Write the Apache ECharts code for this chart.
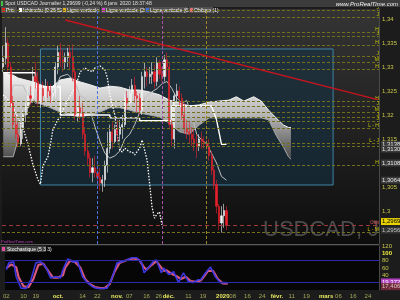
<!DOCTYPE html>
<html>
<head>
<meta charset="utf-8">
<script src="https://cdn.jsdelivr.net/npm/echarts@6/dist/echarts.min.js"></script>
<style>
html, body { margin: 0; padding: 0; background: #1c1c1c; }
#main { width: 400px; height: 300px; }
</style>
</head>
<body>
<div id="main"></div>
<script>
'use strict';
// Spot USDCAD journalier - ichimoku + stochastique

var ohlc = [ // [open, close, low, high] one per trading day from idx 0
  [1.3300,1.3318,1.3290,1.3345],[1.3318,1.3350,1.3305,1.3383],[1.3350,1.3300,1.3290,1.3360],[1.3300,1.3225,1.3215,1.3310],
  [1.3225,1.3180,1.3170,1.3240],[1.3180,1.3160,1.3150,1.3200],[1.3160,1.3140,1.3133,1.3185],[1.3140,1.3170,1.3135,1.3180],
  [1.3170,1.3200,1.3150,1.3210],[1.3200,1.3215,1.3185,1.3225],[1.3215,1.3240,1.3200,1.3260],[1.3240,1.3235,1.3220,1.3260],
  [1.3235,1.3280,1.3225,1.3300],[1.3280,1.3270,1.3255,1.3310],[1.3270,1.3230,1.3220,1.3290],[1.3230,1.3255,1.3215,1.3265],
  [1.3255,1.3240,1.3225,1.3270],[1.3240,1.3260,1.3230,1.3275],[1.3260,1.3250,1.3235,1.3270],[1.3250,1.3240,1.3225,1.3265],
  [1.3240,1.3245,1.3225,1.3260],[1.3245,1.3300,1.3235,1.3310],[1.3300,1.3330,1.3285,1.3345],[1.3330,1.3315,1.3300,1.3350],
  [1.3315,1.3310,1.3290,1.3335],[1.3310,1.3320,1.3295,1.3330],[1.3320,1.3330,1.3300,1.3340],[1.3330,1.3320,1.3295,1.3345],
  [1.3320,1.3290,1.3270,1.3348],[1.3290,1.3200,1.3190,1.3300],[1.3200,1.3215,1.3185,1.3230],[1.3215,1.3205,1.3190,1.3240],
  [1.3205,1.3160,1.3150,1.3225],[1.3160,1.3125,1.3115,1.3175],[1.3125,1.3110,1.3095,1.3140],[1.3110,1.3080,1.3070,1.3120],
  [1.3080,1.3090,1.3060,1.3110],[1.3090,1.3080,1.3070,1.3115],[1.3080,1.3070,1.3055,1.3100],[1.3070,1.3058,1.3042,1.3090],
  [1.3058,1.3065,1.3040,1.3075],[1.3065,1.3095,1.3050,1.3105],[1.3095,1.3130,1.3080,1.3165],[1.3130,1.3165,1.3120,1.3180],
  [1.3165,1.3145,1.3130,1.3185],[1.3145,1.3170,1.3140,1.3180],[1.3170,1.3160,1.3145,1.3190],[1.3160,1.3175,1.3145,1.3190],
  [1.3175,1.3180,1.3150,1.3200],[1.3180,1.3235,1.3175,1.3245],[1.3235,1.3225,1.3210,1.3250],[1.3225,1.3245,1.3215,1.3260],
  [1.3245,1.3262,1.3225,1.3275],[1.3262,1.3240,1.3225,1.3280],[1.3240,1.3235,1.3205,1.3250],[1.3235,1.3210,1.3200,1.3245],
  [1.3210,1.3280,1.3200,1.3290],[1.3280,1.3290,1.3255,1.3310],[1.3290,1.3280,1.3260,1.3300],[1.3280,1.3285,1.3265,1.3300],
  [1.3285,1.3290,1.3265,1.3310],[1.3290,1.3270,1.3255,1.3305],[1.3270,1.3310,1.3260,1.3320],[1.3310,1.3285,1.3275,1.3315],
  [1.3285,1.3280,1.3270,1.3300],[1.3280,1.3315,1.3270,1.3325],[1.3315,1.3300,1.3280,1.3330],[1.3300,1.3180,1.3170,1.3310],
  [1.3180,1.3150,1.3135,1.3190],[1.3150,1.3240,1.3130,1.3245],[1.3240,1.3250,1.3225,1.3265],[1.3250,1.3235,1.3220,1.3260],
  [1.3235,1.3200,1.3190,1.3245],[1.3200,1.3172,1.3160,1.3225],[1.3172,1.3165,1.3150,1.3190],[1.3165,1.3160,1.3140,1.3185],
  [1.3160,1.3150,1.3135,1.3175],[1.3150,1.3140,1.3125,1.3170],[1.3140,1.3135,1.3110,1.3160],[1.3135,1.3150,1.3125,1.3160],
  [1.3150,1.3145,1.3130,1.3165],[1.3145,1.3140,1.3130,1.3155],[1.3140,1.3135,1.3128,1.3148],[1.3135,1.3115,1.3105,1.3150],
  [1.3115,1.3085,1.3075,1.3125],[1.3085,1.3055,1.3045,1.3095],[1.3055,1.3010,1.2995,1.3065],[1.3010,1.2975,1.2960,1.3015],
  [1.2975,1.2990,1.2955,1.3010],[1.2990,1.3001,1.2965,1.3015],[1.3001,1.29699,1.2960,1.3010]
];

// ichimoku cloud (senkou spans, already shifted 26 days ahead)
var cloudIdx = [0, 4, 6, 9, 12, 15, 19, 23, 27, 31, 35, 39, 43, 47, 51, 55, 59, 63, 67, 71, 75, 79, 83, 87, 91, 94, 97, 101, 104, 107, 110, 113, 115, 116];
var cloudTop = [1.3288,1.3283,1.3277,1.3273,1.3269,1.3263,1.3256,1.3273,1.3277,1.3269,1.3263,1.3256,1.3260,1.3258,1.3252,1.3252,1.3248,1.3242,
  1.3231,1.3225,1.3219,1.3221,1.3227,1.3229,1.3231,1.3238,1.3229,1.3238,1.3229,1.3210,1.3194,1.3179,1.3174,1.3174];
var cloudBot = [1.3113,1.3113,1.3148,1.3210,1.3231,1.3223,1.3215,1.3206,1.3200,1.3196,1.3200,1.3206,1.3215,1.3215,1.3210,1.3204,1.3200,1.3196,
  1.3183,1.3165,1.3160,1.3179,1.3194,1.3194,1.3194,1.3194,1.3194,1.3194,1.3194,1.3190,1.3158,1.3133,1.3113,1.3108];

var kijun = [[0,1.3288],[13,1.3288],[13,1.3259],[23,1.3259],[23,1.3200],[43,1.3200],[43,1.3194],[55,1.3194],[55,1.3188],[68,1.3188],
  [68,1.3219],[84,1.3219],[86,1.3190],[88,1.3139],[90,1.3139]];
var tenkan = [[0,1.3230],[3,1.3230],[4,1.3262],[8,1.3262],[9,1.3250],[11,1.3235],[13,1.3225],[17,1.3225],[19,1.3240],[21,1.3255],
  [23,1.3280],[26,1.3285],[29,1.3268],[31,1.3240],[33,1.3235],[35,1.3210],[37,1.3175],[39,1.3145],[41,1.3120],[43,1.3110],
  [45,1.3115],[47,1.3125],[49,1.3150],[51,1.3160],[53,1.3180],[55,1.3205],[57,1.3235],[59,1.3245],[62,1.3255],[64,1.3265],
  [66,1.3270],[68,1.3255],[70,1.3235],[72,1.3225],[74,1.3230],[76,1.3200],[78,1.3160],[80,1.3148],[82,1.3140],[84,1.3120],
  [86,1.3100],[88,1.3072],[90,1.30642]];
var chikou = [[0,1.3242],[2,1.3231],[4,1.3215],[6,1.3194],[8,1.3173],[10,1.3138],[12,1.3096],[14,1.3065],[15,1.3056],[16,1.3094],
  [18,1.3113],[19,1.3138],[20,1.3169],[22,1.3190],[23,1.3194],[24,1.3210],[26,1.3231],[28,1.3248],[30,1.3273],[31,1.3290],
  [33,1.3298],[34,1.3294],[36,1.3290],[37,1.3298],[39,1.3302],[41,1.3294],[42,1.3277],[43,1.3242],[45,1.3200],[46,1.3158],
  [47,1.3127],[48,1.3123],[49,1.3131],[51,1.3123],[52,1.3123],[53,1.3117],[55,1.3131],[56,1.3148],[58,1.3106],[59,1.3058],
  [60,1.3008],[61,1.2985],[62,1.2994],[63,1.2998],[64,1.2971]];

var stochK = [[0,55],[1,74],[3,77],[4,36],[6,5],[8,4],[10,28],[12,74],[14,77],[16,63],[18,33],[20,36],[22,33],[23,55],[25,85],
  [27,77],[29,77],[31,36],[33,20],[35,9],[37,4],[39,4],[41,5],[43,33],[45,74],[47,77],[49,82],[51,88],[53,88],[55,74],[56,47],
  [58,63],[60,80],[61,82],[63,47],[64,60],[66,42],[68,50],[70,20],[72,47],[74,23],[76,20],[78,28],[79,28],[81,47],[83,63],
  [85,36],[87,20],[89,20],[90,19.372]];
var stochD = [[0,60],[2,70],[4,62],[5,35],[7,10],[9,8],[11,30],[13,68],[15,72],[17,52],[19,34],[21,34],[23,40],[24,62],[26,80],
  [28,76],[30,62],[32,30],[34,16],[36,8],[38,5],[40,5],[42,16],[44,50],[46,74],[48,79],[50,84],[52,86],[54,82],[56,62],[57,55],
  [59,68],[61,79],[62,70],[64,52],[65,54],[67,45],[69,38],[71,30],[73,36],[75,24],[77,22],[79,26],[80,34],[82,52],[84,52],
  [86,30],[88,18],[90,17.406]];

// horizontal support / resistance levels with their tag
var levelVals = [1.34188,1.34042,1.33729,1.33646,1.33458,1.33229,1.33104,1.32958,1.32292,1.32188,1.32063,1.31958,1.31875,
  1.31729,1.31417,1.31354,1.30958,1.29563];
var levelTags = ['J','J','H','J','H','J','M','H','H','J','M','J','J','L - H','L - J','','H','L - M'];

var vLines = [38, 64, 82];
var vColors = ['#4a72e0', '#a852a8', '#a08428'];
var obliqueEnds = [[25, 1.3398], [151, 1.3232]];
var zoneBox = [[15, 1.33375], [133, 1.30542]];

var tickIdx = [0,7,12,21,31,37,45,50,57,62,66,74,80,88,92,98,104,110,116,122,130,135,141,147];
var tickText = ['02','10','19','oct.','14','22','nov.','07','16','26','déc.','11','19','2020','08','16','24','févr.','11','19',
  'mars','06','16','24'];
var monthText = ['oct.','nov.','déc.','2020','févr.','mars'];

// value boxes on the price scale: [position, text, background, text colour]
var priceBoxes = [
  [1.31386, '1,31386', '#3a3a3a', '#e6e6e6'],
  [1.31290, '1,31301', '#3a3a3a', '#e6e6e6'],
  [1.31000, '1,31083', '#3a3a3a', '#e6e6e6'],
  [1.30642, '1,30642', '#3a3a3a', '#e6e6e6'],
  [1.29780, '1,29699', '#e8d200', '#000000'],
  [1.29600, '1,29563', '#333333', '#bdbdbd']
];

var days = [];
for (var i = 0; i < 152; i++) days.push(String(i));
var closes = ohlc.map(function (c) { return c[1]; });

var FONT = 'Liberation Sans';
var HIDDEN = { color: 'rgba(0,0,0,0)', width: 1 };

function pairs(idx, vals) {
  return idx.map(function (x, i) { return [x, vals[i]]; });
}

var myChart = echarts.init(document.getElementById('main'));

var levelData = levelVals.map(function (v, i) {
  return { yAxis: v, label: { formatter: levelTags[i] || ' ' } };
});
levelData.push({ yAxis: 1.29699, lineStyle: { color: '#a03a3a', type: [4, 3], width: 1 },
  label: { formatter: 'Clôt', color: '#d04848' } });
var vData = vLines.map(function (x, i) {
  return { xAxis: x, lineStyle: { color: vColors[i], type: [3, 2], width: 1 }, label: { show: false } };
});
var boxData = priceBoxes.map(function (b) {
  return { yAxis: b[0], label: { formatter: b[1], backgroundColor: b[2], color: b[3] } };
});

var option = {
  animation: false,
  backgroundColor: '#1c1c1c',
  grid: [
    {
      left: 2, right: 21, top: 9, height: 235, show: true, borderWidth: 0,
      backgroundColor: new echarts.graphic.LinearGradient(0, 0, 0, 1, [
        { offset: 0, color: '#343434' }, { offset: 0.55, color: '#202020' }, { offset: 1, color: '#0d0d0d' }
      ])
    },
    { left: 2, right: 21, top: 246, height: 44, show: true, borderWidth: 0, backgroundColor: '#060606' }
  ],
  xAxis: [
    { type: 'category', gridIndex: 0, data: days, boundaryGap: true, axisLine: { show: false }, axisTick: { show: false }, axisLabel: { show: false } },
    {
      type: 'category', gridIndex: 1, data: days, boundaryGap: true,
      axisLine: { show: false }, axisTick: { show: false },
      axisLabel: {
        margin: 3, fontSize: 6, fontFamily: FONT,
        interval: function (index) { return tickIdx.indexOf(index) >= 0; },
        formatter: function (v, index) {
          var k = tickIdx.indexOf(index);
          if (k < 0) return '';
          var t = tickText[k];
          return monthText.indexOf(t) >= 0 ? '{m|' + t + '}' : '{d|' + t + '}';
        },
        rich: {
          m: { fontSize: 6, fontWeight: 'bold', color: '#e8e860', fontFamily: FONT },
          d: { fontSize: 6, color: '#a8a858', fontFamily: FONT }
        }
      }
    }
  ],
  yAxis: [
    {
      type: 'value', gridIndex: 0, position: 'right', min: 1.293125, max: 1.342083, splitNumber: 10,
      splitLine: { show: false },
      axisLine: { show: true, lineStyle: { color: '#4a4a4a' } },
      axisTick: { show: false },
      axisLabel: {
        margin: 3, fontSize: 6, fontFamily: FONT, color: '#c8c84a', showMinLabel: false, showMaxLabel: false,
        formatter: function (v) {
          var s = +v.toFixed(4);
          if (s === 1.31 || s === 1.295) return '';
          return String(s).replace('.', ',');
        }
      }
    },
    {
      type: 'value', gridIndex: 1, position: 'right', min: 0, max: 120, interval: 20,
      splitLine: { show: false },
      axisLine: { show: true, lineStyle: { color: '#4a4a4a' } },
      axisTick: { show: false },
      axisLabel: {
        margin: 3, fontSize: 6, fontFamily: FONT, color: '#c8c84a',
        formatter: function (v) {
          if (v < 40) return '';
          return v === 100 ? '{b|100}' : String(v);
        },
        rich: { b: { fontSize: 6, fontWeight: 'bold', color: '#f0f040', fontFamily: FONT } }
      }
    }
  ],
  series: [
    {
      // carrier of the zone box and of the drawn levels, its own line is hidden
      name: 'levels', type: 'line', xAxisIndex: 0, yAxisIndex: 0, data: closes, z: 1, silent: true,
      symbol: 'none', lineStyle: HIDDEN,
      markArea: {
        silent: true,
        itemStyle: { color: 'rgba(20,52,72,0.5)', borderColor: '#3f84a8', borderWidth: 1 },
        data: [[{ xAxis: zoneBox[0][0], yAxis: zoneBox[0][1] }, { xAxis: zoneBox[1][0], yAxis: zoneBox[1][1] }]]
      },
      markLine: {
        silent: true, symbol: ['none', 'none'], precision: 5,
        lineStyle: { color: '#70701c', type: [3, 2], width: 1 },
        label: { position: 'insideEndTop', distance: 0, fontSize: 5, color: '#c8c800', fontFamily: FONT },
        data: levelData
      }
    },
    {
      name: 'cloudBase', type: 'line', xAxisIndex: 0, yAxisIndex: 0, stack: 'cloud', z: 2,
      symbol: 'none', data: pairs(cloudIdx, cloudBot),
      lineStyle: { color: '#a8a8a8', width: 1 }
    },
    {
      name: 'cloudBand', type: 'line', xAxisIndex: 0, yAxisIndex: 0, stack: 'cloud', z: 2,
      symbol: 'none',
      data: cloudIdx.map(function (x, i) { return [x, cloudTop[i] - cloudBot[i]]; }),
      lineStyle: { color: '#f2f2f2', width: 1 },
      areaStyle: {
        opacity: 1,
        color: new echarts.graphic.LinearGradient(0, 0, 0, 1, [
          { offset: 0, color: '#f4f4f4' }, { offset: 0.5, color: '#b4b4b4' }, { offset: 1, color: '#4a4a4a' }
        ])
      }
    },
    {
      name: 'kijun', type: 'line', xAxisIndex: 0, yAxisIndex: 0, z: 3, symbol: 'none',
      data: kijun, lineStyle: { color: '#ffffff', width: 1.4 }
    },
    {
      name: 'tenkan', type: 'line', xAxisIndex: 0, yAxisIndex: 0, z: 3, symbol: 'none',
      data: tenkan, lineStyle: { color: '#bfbfbf', width: 1 }
    },
    {
      name: 'chikou', type: 'line', xAxisIndex: 0, yAxisIndex: 0, z: 3, symbol: 'none',
      data: chikou, lineStyle: { color: '#ffffff', width: 1.3, type: [1.5, 1.5] }
    },
    {
      name: 'Prix', type: 'candlestick', xAxisIndex: 0, yAxisIndex: 0, z: 4, barWidth: 1.6,
      data: ohlc,
      itemStyle: { color: '#f4f4f4', color0: '#e8202a', borderColor: '#f4f4f4', borderColor0: '#e8202a', borderWidth: 0.6 },
      markLine: {
        silent: true, symbol: ['none', 'none'],
        label: { show: false },
        data: vData
      }
    },
    {
      name: 'oblique', type: 'line', xAxisIndex: 0, yAxisIndex: 0, z: 5, symbol: 'none',
      data: obliqueEnds, lineStyle: { color: '#c8141e', width: 1.5 },
      markLine: {
        silent: true, symbol: ['none', 'none'], precision: 5,
        lineStyle: HIDDEN,
        label: { position: 'end', distance: 2, fontSize: 6, fontFamily: FONT, padding: [1, 1, 0, 1] },
        data: boxData
      }
    },
    {
      name: 'stochD', type: 'line', xAxisIndex: 1, yAxisIndex: 1, symbol: 'none', z: 3,
      data: stochD, lineStyle: { color: '#d8587c', width: 2.2 },
      markLine: {
        silent: true, symbol: ['none', 'none'],
        lineStyle: { color: '#2a2aa8', type: 'solid', width: 1 },
        label: { show: false },
        data: [{ yAxis: 80 }, { yAxis: 20 }]
      }
    },
    {
      name: 'stochK', type: 'line', xAxisIndex: 1, yAxisIndex: 1, symbol: 'none', z: 4,
      data: stochK, lineStyle: { color: '#3a36e0', width: 1.6 },
      markLine: {
        silent: true, symbol: ['none', 'none'],
        lineStyle: HIDDEN,
        label: { position: 'end', distance: 2, fontSize: 6, fontFamily: FONT, padding: [1, 1, 0, 1] },
        data: [
          { yAxis: 22, label: { formatter: '19,372', backgroundColor: '#b040c0', color: '#ffffff' } },
          { yAxis: 9, label: { formatter: '17,406', backgroundColor: '#6a2838', color: '#e0c0c0' } }
        ]
      }
    }
  ],
  graphic: [
    { type: 'rect', left: 0, top: 0, shape: { width: 400, height: 7 }, style: { fill: '#3c3c3c' }, z: 10 },
    { type: 'rect', left: 1, top: 1, shape: { width: 2, height: 5 }, style: { fill: '#40c040' }, z: 11 },
    { type: 'text', left: 5, top: 1, z: 11, style: { text: 'Spot USDCAD Journalier 1,29699 (-0,24 %) 6 janv. 2020 18:37:48', fill: '#e0e0e0', font: '5px ' + FONT } },
    { type: 'text', right: 2, top: 1, z: 11, style: { text: 'www.ProRealTime.com', fill: '#f0f0f0', font: 'italic 6px ' + FONT } },
    { type: 'group', left: 1, top: 7, z: 11, children: [
      { type: 'rect', shape: { x: 0, y: 0, width: 16, height: 6 }, style: { fill: '#505050' } },
      { type: 'rect', shape: { x: 1, y: 1, width: 3, height: 4 }, style: { fill: '#e02020' } },
      { type: 'text', x: 5, y: 1, style: { text: 'Prix', fill: '#ffffff', font: '5px ' + FONT } },
      { type: 'rect', shape: { x: 17, y: 0, width: 43, height: 6 }, style: { fill: '#505050' } },
      { type: 'rect', shape: { x: 18, y: 1, width: 3, height: 4 }, style: { fill: '#ffffff' } },
      { type: 'text', x: 22, y: 1, style: { text: 'Ichimoku (9 26 52)', fill: '#ffffff', font: '5px ' + FONT } },
      { type: 'rect', shape: { x: 61, y: 0, width: 38, height: 6 }, style: { fill: '#505050' } },
      { type: 'rect', shape: { x: 62, y: 1, width: 3, height: 4 }, style: { fill: '#e0b020' } },
      { type: 'text', x: 66, y: 1, style: { text: 'Ligne verticale (9)', fill: '#ffffff', font: '5px ' + FONT } },
      { type: 'rect', shape: { x: 100, y: 0, width: 43, height: 6 }, style: { fill: '#505050' } },
      { type: 'rect', shape: { x: 101, y: 1, width: 3, height: 4 }, style: { fill: '#e040e0' } },
      { type: 'text', x: 105, y: 1, style: { text: 'Ligne verticale (20)', fill: '#ffffff', font: '5px ' + FONT } },
      { type: 'rect', shape: { x: 144, y: 0, width: 43, height: 6 }, style: { fill: '#505050' } },
      { type: 'rect', shape: { x: 145, y: 1, width: 3, height: 4 }, style: { fill: '#4070e0' } },
      { type: 'text', x: 149, y: 1, style: { text: 'Ligne verticale (61)', fill: '#ffffff', font: '5px ' + FONT } },
      { type: 'rect', shape: { x: 188, y: 0, width: 24, height: 6 }, style: { fill: '#505050' } },
      { type: 'rect', shape: { x: 189, y: 1, width: 3, height: 4 }, style: { fill: '#e07070' } },
      { type: 'text', x: 193, y: 1, style: { text: 'Oblique (1)', fill: '#ffffff', font: '5px ' + FONT } }
    ] },
    { type: 'text', left: 263, top: 219, z: 0, style: { text: 'USDCAD, J', fill: '#4c4c4c', font: '22px ' + FONT } },
    { type: 'line', shape: { x1: 0, y1: 244.5, x2: 379, y2: 244.5 }, style: { stroke: '#5a5a5a', lineWidth: 1 }, z: 12 },
    { type: 'text', left: 1, top: 240, z: 12, style: { text: 'ProRealTime.com', fill: '#b040b0', font: '4px ' + FONT } },
    { type: 'group', left: 1, top: 246, z: 12, children: [
      { type: 'rect', shape: { x: 0, y: 0, width: 45, height: 6 }, style: { fill: '#3a3a3a' } },
      { type: 'rect', shape: { x: 1, y: 1, width: 3, height: 4 }, style: { fill: '#e050a0' } },
      { type: 'text', x: 6, y: 1, style: { text: 'Stochastique (5 3 3)', fill: '#ffffff', font: '5px ' + FONT } }
    ] }
  ]
};

myChart.setOption(option);
</script>
</body>
</html>
